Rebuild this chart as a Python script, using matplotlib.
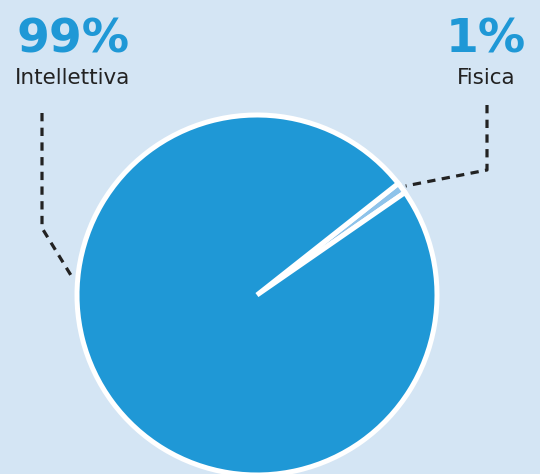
import numpy as np
import matplotlib.pyplot as plt

# data
labels = ["Fisica", "Intellettiva"]
values = [1, 99]
pct_text = ["1%", "99%"]

bg = "#d4e5f4"
blue = "#1f98d6"
light = "#8ec3ea"
W, H = 540, 474

fig = plt.figure(figsize=(5.4, 4.74), dpi=100, facecolor=bg)
ax = fig.add_axes([0, 0, 1, 1])
ax.set_facecolor(bg)

# pie in pixel-like coords (y up)
cx, cy, r = 257, H - 295, 180
mid = 36.5
start = mid - values[0] / sum(values) * 360 / 2
ax.pie(values, colors=[light, blue], startangle=start, counterclock=True,
       center=(cx, cy), radius=r,
       wedgeprops=dict(edgecolor="white", linewidth=3.6))

# leader lines
dash = dict(color="#222222", lw=2.3, ls=(0, (2.6, 2.0)))
ax.plot([42, 42, 72], [H - 113, H - 228, H - 277], **dash)
ex = cx + r * np.cos(np.radians(mid))
ey = cy + r * np.sin(np.radians(mid))
ax.plot([487, 487, ex + 4], [H - 105, H - 170, ey + 2], **dash)

# labels
ax.text(73, H - 52, pct_text[1], color=blue, fontsize=34, fontweight="heavy",
        ha="center", va="baseline")
ax.text(73, H - 84, labels[1], color="#222222", fontsize=15.5,
        ha="center", va="baseline")
ax.text(486, H - 52, pct_text[0], color=blue, fontsize=34, fontweight="heavy",
        ha="center", va="baseline")
ax.text(486, H - 84, labels[0], color="#222222", fontsize=15.5,
        ha="center", va="baseline")

ax.set_xlim(0, W)
ax.set_ylim(0, H)
ax.set_aspect("auto")
ax.axis("off")

fig.savefig("out.png", dpi=100, facecolor=bg)
